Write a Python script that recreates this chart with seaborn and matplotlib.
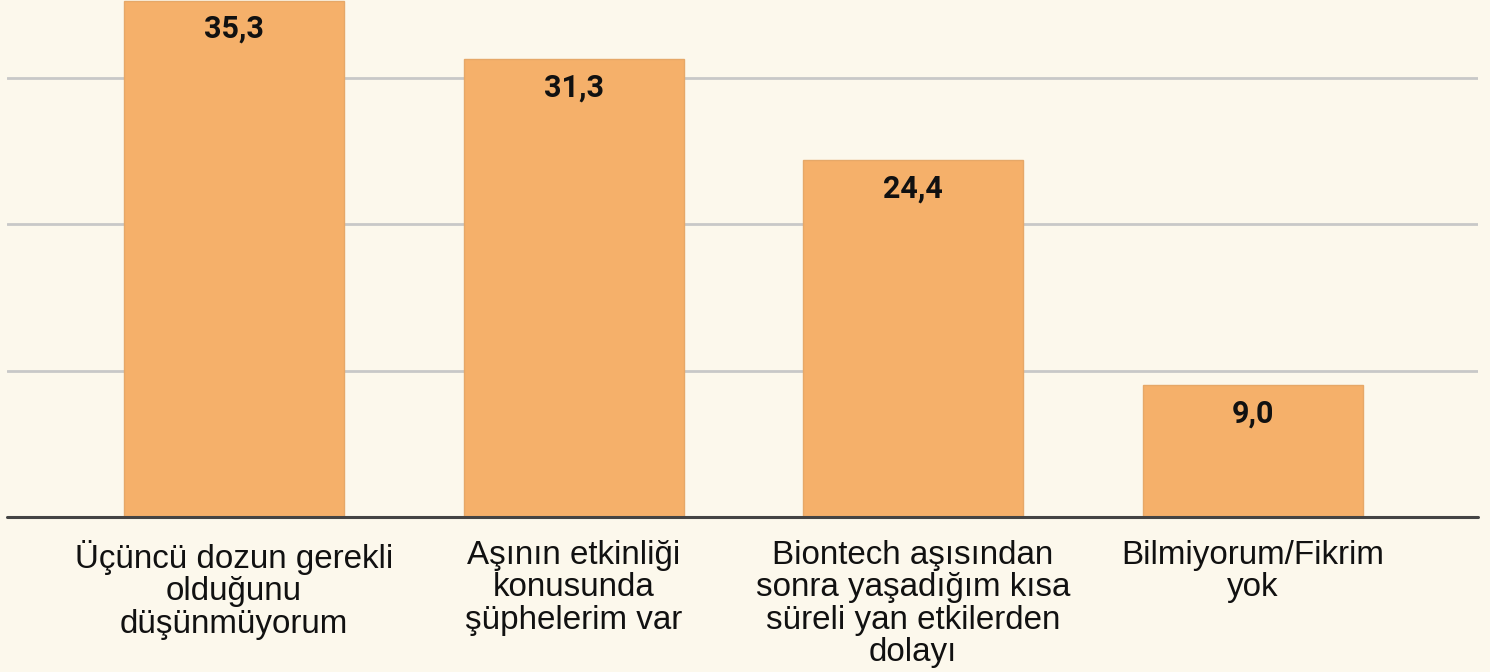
import matplotlib
matplotlib.use("Agg")
import matplotlib.pyplot as plt
import seaborn as sns
import pandas as pd

categories = [
    "Üçüncü dozun gerekli\noldu\u011funu\ndüşünmüyorum",
    "Aşının etkinliği\nkonusunda\nşüphelerim var",
    "Biontech aşısından\nsonra yaşadığım kısa\nsüreli yan etkilerden\ndolayı",
    "Bilmiyorum/Fikrim\nyok",
]
values = [35.3, 31.3, 24.4, 9.0]
value_labels = ["35,3", "31,3", "24,4", "9,0"]

BG = "#fcf8ec"
BAR = "#f5b06a"

sns.set_theme(style="white")
plt.rcParams["font.family"] = ["Liberation Sans", "DejaVu Sans"]

fig = plt.figure(figsize=(14.9, 6.72), dpi=100, facecolor=BG)
ax = fig.add_axes([7 / 1490, (672 - 517) / 672, (1478 - 7) / 1490, 517 / 672])
ax.set_facecolor(BG)

df = pd.DataFrame({"cat": categories, "val": values})
sns.barplot(data=df, x="cat", y="val", color=BAR, saturation=1, width=0.648,
            edgecolor="#e6a868", linewidth=1.0, ax=ax, zorder=3)

ax.set_xlim(-0.669, 3.664)
ax.set_ylim(0, 35.35)
ax.set_yticks([10, 20, 30])
ax.yaxis.grid(True, color="#c8c8c8", linewidth=2.0, zorder=0)
ax.set_axisbelow(True)
ax.tick_params(axis="y", left=False, labelleft=False)
ax.tick_params(axis="x", bottom=False, pad=10.5, labelsize=23.9, colors="#111111")
for lbl in ax.get_xticklabels():
    lbl.set_linespacing(1.06)
ax.set_xlabel("")
ax.set_ylabel("")
for s in ax.spines.values():
    s.set_visible(False)
ax.axhline(0, color="#444444", linewidth=2.2, zorder=4, clip_on=False)

for i, (v, t) in enumerate(zip(values, value_labels)):
    ax.annotate(t, (i, v), xytext=(0, -28), textcoords="offset pixels",
                ha="center", va="center", fontsize=22, fontweight="bold",
                family=["Roboto", "DejaVu Sans"], color="#111111", zorder=5)

fig.savefig("out.png", dpi=100, facecolor=BG)
